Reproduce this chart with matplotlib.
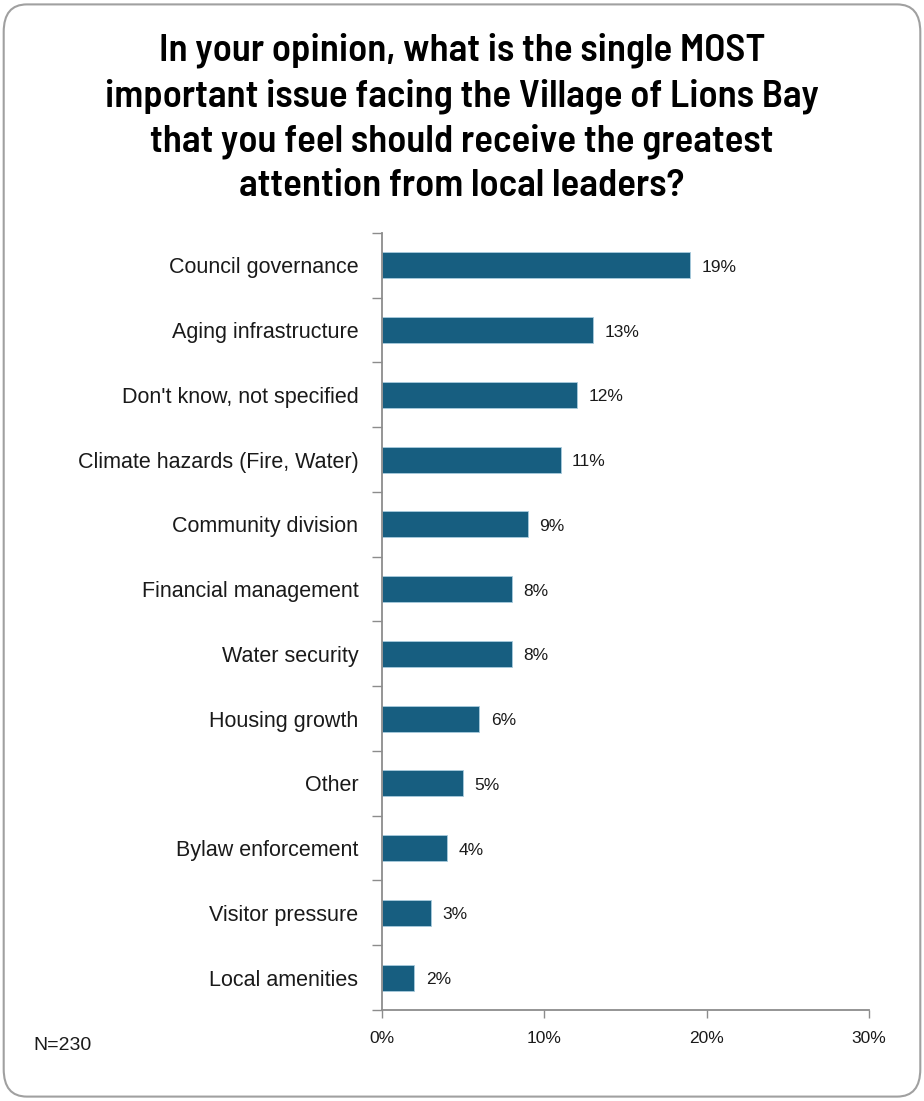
import numpy as np
import matplotlib.pyplot as plt
from matplotlib.patches import FancyBboxPatch
from matplotlib.ticker import FixedLocator

categories = ["Council governance", "Aging infrastructure", "Don't know, not specified",
              "Climate hazards (Fire, Water)", "Community division", "Financial management",
              "Water security", "Housing growth", "Other", "Bylaw enforcement",
              "Visitor pressure", "Local amenities"]
values = [19, 13, 12, 11, 9, 8, 8, 6, 5, 4, 3, 2]
xticks = [0, 10, 20, 30]

title = ("In your opinion, what is the single MOST\n"
         "important issue facing the Village of Lions Bay\n"
         "that you feel should receive the greatest\n"
         "attention from local leaders?")

bar_color = "#175E80"
axis_color = "#8C8C8C"
text_color = "#1A1A1A"
sans = ["Liberation Sans", "DejaVu Sans"]

fig = plt.figure(figsize=(9.24, 11.01), dpi=100)

# rounded border around the whole chart
border = FancyBboxPatch((0.004, 0.004), 0.992, 0.992,
                        boxstyle="round,pad=0,rounding_size=0.025",
                        transform=fig.transFigure, fill=False,
                        edgecolor="#A0A0A0", linewidth=1.5)
fig.patches.append(border)

fig.text(0.5, 0.893, title, ha="center", va="center",
         fontsize=28, fontweight=600, linespacing=1.37,
         family=["Barlow Semi Condensed", "DejaVu Sans"], color="#000000")

ax = fig.add_axes([0.4134, 0.0827, 0.5271, 0.7057])

y = np.arange(len(categories))
ax.barh(y, values, height=0.4, color=bar_color, edgecolor="#A9CBDD", linewidth=0.6)

for yi, v in zip(y, values):
    ax.text(v + 0.7, yi + 0.03, f"{v}%", va="center", ha="left", fontsize=12.5,
            family=sans, color=text_color)

ax.set_xlim(0, 30)
ax.set_ylim(len(categories) - 0.5, -0.5)

ax.set_xticks(xticks)
ax.set_xticklabels([f"{t}%" for t in xticks], fontsize=12.5, family=sans, color=text_color)
ax.tick_params(axis="x", length=6, width=1, color=axis_color, pad=9)

ax.set_yticks(y)
ax.set_yticklabels(categories, fontsize=15.5, family=sans, color=text_color)
ax.tick_params(axis="y", which="major", length=0, pad=17)
ax.yaxis.set_minor_locator(FixedLocator(np.arange(-0.5, len(categories), 1)))
ax.tick_params(axis="y", which="minor", length=7, width=1, color=axis_color)

for side in ["top", "right"]:
    ax.spines[side].set_visible(False)
for side in ["left", "bottom"]:
    ax.spines[side].set_color(axis_color)
    ax.spines[side].set_linewidth(1.3)

fig.text(0.036, 0.05, "N=230", fontsize=14, family=sans, color=text_color, va="center")

fig.savefig("out.png", dpi=100)
